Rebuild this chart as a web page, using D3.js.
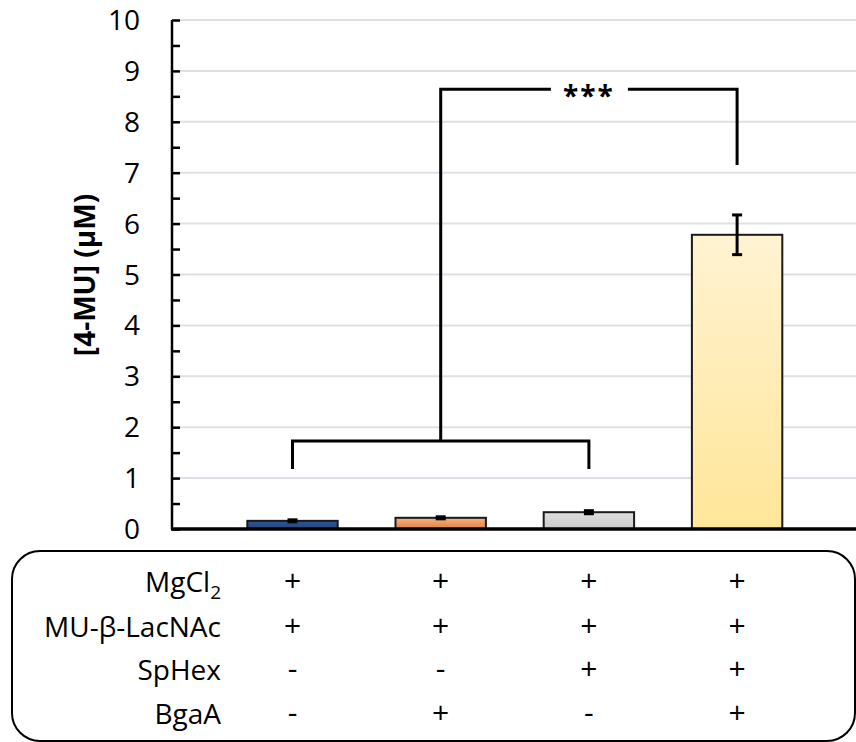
<!DOCTYPE html>
<html><head><meta charset="utf-8">
<script src="https://cdn.jsdelivr.net/npm/d3@7"></script>
<style>
html,body{margin:0;padding:0;background:#fff;}
svg{display:block;}
text{font-family:"Open Sans","Noto Sans",sans-serif;}
</style></head>
<body>
<svg id="chart" width="856" height="742"></svg>
<script>
const categories = ["A","B","C","D"];
const values = [0.16, 0.22, 0.33, 5.78];
const errors = [0.02, 0.02, 0.03, 0.39];
const barTop = ["#2f5597","#f4b183","#dedede","#fff3d2"];
const barBottom = ["#24467f","#e2823f","#c9c9c9","#ffe699"];
const yTicks = [0,1,2,3,4,5,6,7,8,9,10];
const rowLabels = ["MgCl","MU-β-LacNAc","SpHex","BgaA"];
const rowSigns = [
  ["+","+","+","+"],
  ["+","+","+","+"],
  ["-","-","+","+"],
  ["-","+","-","+"]
];
// significance brackets (data units)
const lowerBracket = {from:0, to:2, y:1.73, leg:1.18};
const upperBracket = {from:1, to:3, y:8.64, legTo:7.15, label:"***"};

const svg = d3.select("#chart");
const y = d3.scaleLinear().domain([0,10]).range([529,20]);
const x = d3.scalePoint().domain(categories).range([218.4,811.2]).padding(0.5);
const bw = x.step()*0.61;
const axisX = 172;

// gradients
const defs = svg.append("defs");
categories.forEach((c,i)=>{
  const g = defs.append("linearGradient").attr("id","g"+i).attr("x1",0).attr("x2",0).attr("y1",0).attr("y2",1);
  g.append("stop").attr("offset","0%").attr("stop-color",barTop[i]);
  g.append("stop").attr("offset","100%").attr("stop-color",barBottom[i]);
});

// gridlines
svg.append("g").selectAll("line").data(yTicks.filter(d=>d>0)).join("line")
  .attr("x1",axisX).attr("x2",856).attr("y1",d=>y(d)).attr("y2",d=>y(d))
  .attr("stroke","#dde1e7").attr("stroke-width",2);

// y axis
const yAxis = d3.axisRight(y).tickValues(d3.range(0,10.01,0.5)).tickSize(8).tickFormat("");
const ya = svg.append("g").attr("transform",`translate(${axisX},0)`).call(yAxis);
ya.select(".domain").attr("stroke","#000").attr("stroke-width",2.5).attr("d",`M0,${y(10)}V${y(0)}`);
ya.selectAll(".tick line").attr("stroke","#000").attr("stroke-width",2.5);
svg.append("g").selectAll("text").data(yTicks).join("text")
  .attr("x",140).attr("y",d=>y(d)+10).attr("text-anchor","end")
  .attr("font-size",28).attr("fill","#000").text(d=>d);

// bars
svg.append("g").selectAll("rect").data(values).join("rect")
  .attr("x",(d,i)=>x(categories[i])-bw/2).attr("width",bw)
  .attr("y",d=>y(d)).attr("height",d=>y(0)-y(d))
  .attr("fill",(d,i)=>`url(#g${i})`).attr("stroke","#1a1a1a").attr("stroke-width",2);

// x axis
svg.append("line").attr("x1",axisX-1).attr("x2",856).attr("y1",y(0)).attr("y2",y(0))
  .attr("stroke","#000").attr("stroke-width",3.5);

// error bars
const eb = svg.append("g").attr("stroke","#000").attr("stroke-width",3);
values.forEach((v,i)=>{
  const cx = x(categories[i]);
  const e = errors[i];
  eb.append("line").attr("x1",cx).attr("x2",cx).attr("y1",y(v+e)).attr("y2",y(v-e));
  eb.append("line").attr("x1",cx-5).attr("x2",cx+5).attr("y1",y(v+e)).attr("y2",y(v+e));
  eb.append("line").attr("x1",cx-5).attr("x2",cx+5).attr("y1",y(v-e)).attr("y2",y(v-e));
});

// brackets
const br = svg.append("g").attr("stroke","#000").attr("stroke-width",3).attr("fill","none");
const lx1 = x(categories[lowerBracket.from]), lx2 = x(categories[lowerBracket.to]);
br.append("path").attr("d",`M${lx1},${y(lowerBracket.leg)}V${y(lowerBracket.y)}H${lx2}V${y(lowerBracket.leg)}`);
const ux1 = x(categories[upperBracket.from]), ux2 = x(categories[upperBracket.to]);
const umid = (x(categories[2]));
br.append("path").attr("d",`M${ux1},${y(lowerBracket.y)}V${y(upperBracket.y)}H${umid-38}`);
br.append("path").attr("d",`M${umid+39},${y(upperBracket.y)}H${ux2}V${y(upperBracket.legTo)}`);
svg.append("text").attr("x",umid).attr("y",y(upperBracket.y)+17).attr("text-anchor","middle")
  .attr("font-size",28).attr("font-weight","bold").attr("letter-spacing",2).text(upperBracket.label);

// y title
svg.append("text").attr("transform","translate(95,275) rotate(-90)").attr("text-anchor","middle")
  .attr("font-size",28).attr("font-weight","bold").text("[4-MU] (μM)");

// table box
svg.append("rect").attr("x",12).attr("y",551).attr("width",843).attr("height",190).attr("rx",28)
  .attr("fill","none").attr("stroke","#000").attr("stroke-width",2);

const rowY = [580,625,668,712];
const tbl = svg.append("g");
rowLabels.forEach((lab,r)=>{
  const t = tbl.append("text").attr("x",221).attr("y",rowY[r]+12).attr("text-anchor","end").attr("font-size",28);
  t.append("tspan").text(lab);
  if(r===0) t.append("tspan").attr("font-size",19).attr("dy",7).text("2");
  rowSigns[r].forEach((s,c)=>{
    tbl.append("text").attr("x",x(categories[c])).attr("y",rowY[r]+11).attr("text-anchor","middle")
      .attr("font-size",30).text(s);
  });
});
</script>
</body></html>
